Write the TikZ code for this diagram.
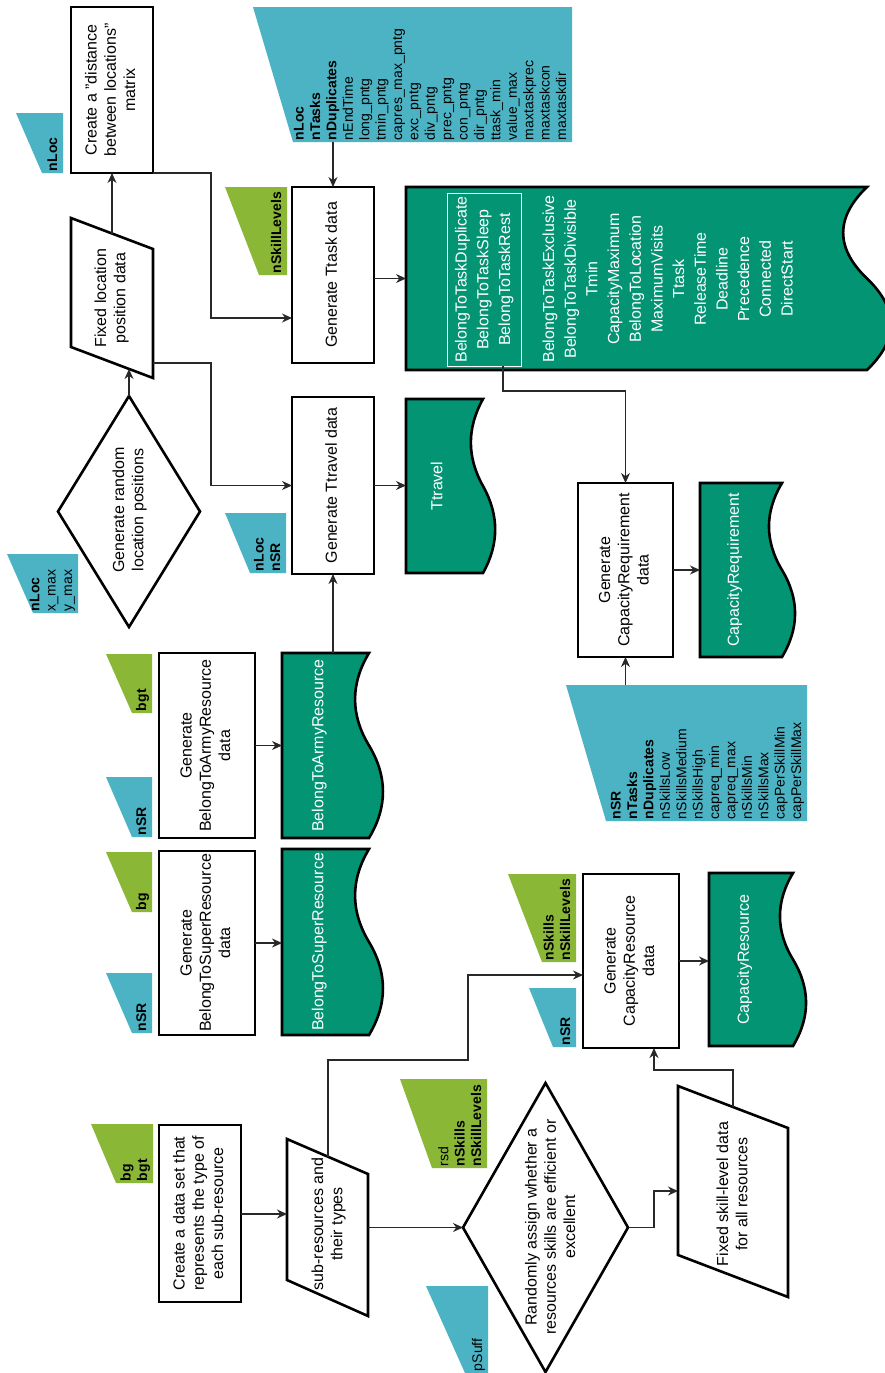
\documentclass[tikz,border=0pt]{standalone}
\usepackage{fontspec}
\setmainfont{Liberation Sans}
\usetikzlibrary{arrows.meta,calc,shapes.geometric}

\definecolor{paramcyan}{RGB}{75,179,196}
\definecolor{paramgreen}{RGB}{139,183,55}
\definecolor{docgreen}{RGB}{3,148,116}
\definecolor{wirecol}{RGB}{40,40,40}

% rotated multi-line labels (text reads bottom to top)
\newcommand{\txtrot}[1]{\rotatebox{90}{\begin{tabular}{@{}c@{}}#1\end{tabular}}}
\newcommand{\lstrot}[1]{\rotatebox{90}{\begin{tabular}{@{}l@{}}#1\end{tabular}}}

\tikzset{
  every node/.style={inner sep=0pt, outer sep=0pt},
  bigtext/.style={font=\fontsize{16}{19.2}\selectfont},
  listtext/.style={font=\fontsize{16}{21.67}\selectfont, text=white},
  procbox/.style={draw=black, line width=2.6pt, fill=white, bigtext},
  decision/.style={diamond, draw=black, line width=2.6pt, fill=white},
  iobody/.style={draw=black, line width=2.6pt, fill=white},
  docbody/.style={draw=black, line width=2.6pt, fill=docgreen},
  doclabel/.style={bigtext, text=white},
  prmtext/.style={font=\fontsize{14}{16.4}\selectfont, anchor=south east},
  connline/.style={draw=wirecol, line width=1.3pt},
  connarrow/.style={connline, -{Stealth[length=10pt,width=9pt]}},
}

% parameter tag: colour, x0, y0, x1, y1, lower-left x, name, lines
\newcommand{\prmshape}[8]{%
  \fill[#1] (#2,#3) -- (#4,#3) -- (#4,#5) -- (#6,#5) -- cycle;
  \coordinate (#7-nw) at (#2,#3);
  \coordinate (#7-se) at (#4,#5);
  \node[prmtext] (#7) at ({#4-1},{#5-2}) {\lstrot{#8}};
}

% data document with a wavy right side: L, T, R, B, wave depth
\newcommand{\docshape}[5]{%
  \path[docbody] (#1,#2) -- (#3,#2)
    .. controls ({#3-0.6*#5},{#2+(#4-#2)/6}) and ({#3-0.6*#5},{#2+(#4-#2)/3}) .. (#3,{(#2+#4)/2})
    .. controls ({#3+0.6*#5},{#2+2*(#4-#2)/3}) and ({#3+0.6*#5},{#2+5*(#4-#2)/6}) .. (#3,#4)
    -- (#1,#4) -- cycle;
}

\begin{document}
\begin{tikzpicture}[x=1pt,y=-1pt]
\fill[white] (0,0) rectangle (884,1373);
\useasboundingbox (0,0) rectangle (884,1373);

% ---------- parameter tags ----------
\prmshape{paramcyan}{16}{113}{63}{173}{42}{pnloc}{\textbf{nLoc}}
\prmshape{paramcyan}{253}{7}{572}{142}{293}{ptask}{\textbf{nLoc}\\\textbf{nTasks}\\\textbf{nDuplicates}\\nEndTime\\long\_pntg\\tmin\_pntg\\capres\_max\_pntg\\exc\_pntg\\div\_pntg\\prec\_pntg\\con\_pntg\\dir\_pntg\\ttask\_min\\value\_max\\maxtaskprec\\maxtaskcon\\maxtaskdir}
\prmshape{paramgreen}{225}{187}{287}{275}{259}{pskl}{\textbf{nSkillLevels}}
\prmshape{paramcyan}{225}{513}{286}{573}{250}{ptravel}{\textbf{nLoc}\\\textbf{nSR}}
\prmshape{paramcyan}{7}{554}{78}{613}{33}{ploc}{\textbf{nLoc}\\x\_max\\y\_max}
\prmshape{paramgreen}{106}{654}{152}{713}{132}{pbgt}{\textbf{bgt}}
\prmshape{paramcyan}{106}{777}{152}{837}{132}{pnsra}{\textbf{nSR}}
\prmshape{paramgreen}{106}{852}{152}{912}{132}{pbg}{\textbf{bg}}
\prmshape{paramcyan}{106}{973}{152}{1033}{132}{pnsrb}{\textbf{nSR}}
\prmshape{paramcyan}{566}{685}{807}{821}{606}{pcapreq}{\textbf{nSR}\\\textbf{nTasks}\\\textbf{nDuplicates}\\nSkillsLow\\nSkillsMedium\\nSkillsHigh\\capreq\_min\\capreq\_max\\nSkillsMin\\nSkillsMax\\capPerSkillMin\\capPerSkillMax}
\prmshape{paramgreen}{508}{874}{576}{962}{542}{pskills}{\textbf{nSkills}\\\textbf{nSkillLevels}}
\prmshape{paramcyan}{529}{988}{576}{1047}{553}{pnsrc}{\textbf{nSR}}
\prmshape{paramgreen}{91}{1124}{153}{1183}{116}{pbgbgt}{\textbf{bg}\\\textbf{bgt}}
\prmshape{paramgreen}{400}{1079}{487}{1168}{432}{prsd}{rsd\\\textbf{nSkills}\\\textbf{nSkillLevels}}
\prmshape{paramcyan}{426}{1286}{488}{1373}{465}{psuff}{pSuff}

% ---------- process boxes ----------
\node[procbox, minimum width=82pt, minimum height=166pt] (dist) at (112,90)
  {\txtrot{Create a "distance\\between locations"\\matrix}};
\node[procbox, minimum width=82pt, minimum height=176pt] (gtask) at (333,275)
  {\txtrot{Generate Ttask data}};
\node[procbox, minimum width=82pt, minimum height=177pt] (gtravel) at (333,485.5)
  {\txtrot{Generate Ttravel data}};
\node[procbox, minimum width=95pt, minimum height=174pt] (gcapreq) at (625.5,570)
  {\txtrot{Generate\\CapacityRequirement\\data}};
\node[procbox, minimum width=96pt, minimum height=185pt] (garmy) at (207,745.5)
  {\txtrot{Generate\\BelongToArmyResource\\data}};
\node[procbox, minimum width=96pt, minimum height=184pt] (gsuper) at (207,943)
  {\txtrot{Generate\\BelongToSuperResource\\data}};
\node[procbox, minimum width=96pt, minimum height=174pt] (gcapres) at (631,961)
  {\txtrot{Generate\\CapacityResource\\data}};
\node[procbox, minimum width=82pt, minimum height=177pt] (dataset) at (200,1213.5)
  {\txtrot{Create a data set that\\represents the type of\\each sub-resource}};

% ---------- decisions ----------
\node[decision, minimum width=142pt, minimum height=231pt] (rnd) at (129,511.5) {};
\node[bigtext] (rndtext) at (130,510) {\txtrot{Generate random\\location positions}};
\node[decision, minimum width=165pt, minimum height=289pt] (rand) at (545.5,1227.5) {};
\node[bigtext] (randtext) at (552,1227) {\txtrot{Randomly assign whether a\\resources skills are efficient or\\excellent}};

% ---------- data (parallelograms) ----------
\path[iobody] (71,218) -- (153,249) -- (153,378) -- (71,347) -- cycle;
\node[bigtext] (fixloc) at (112,298) {\txtrot{Fixed location\\position data}};
\coordinate (fixtop) at (112,233.5);
\coordinate (fixbot) at (129,369);
\coordinate (fixright) at (153,363);

\path[iobody] (287,1139) -- (368,1174) -- (368,1316) -- (287,1280) -- cycle;
\node[bigtext] (subres) at (329,1224) {\txtrot{sub-resources and\\their types}};
\coordinate (subleft) at (287,1214);
\coordinate (subright) at (368,1227.5);
\coordinate (subtop) at (328,1157);

\path[iobody] (678,1086) -- (788,1128) -- (788,1297) -- (678,1255) -- cycle;
\node[bigtext] (skillfix) at (734,1194) {\txtrot{Fixed skill-level data\\for all resources}};
\coordinate (skillleft) at (678,1191);
\coordinate (skilltop) at (733,1107);

% ---------- output documents ----------
\docshape{406}{187}{867}{370}{53}
\node[minimum width=449pt, minimum height=183pt] (tdoc) at (630.5,278.5) {};
\node[listtext, draw=white, line width=1pt, minimum width=74pt, minimum height=173pt] (trio) at (484,279.5)
  {\txtrot{BelongToTaskDuplicate\\BelongToTaskSleep\\BelongToTaskRest}};
\node[listtext] (tlist) at (669,279)
  {\txtrot{BelongToTaskExclusive\\BelongToTaskDivisible\\Tmin\\CapacityMaximum\\BelongToLocation\\MaximumVisits\\Ttask\\ReleaseTime\\Deadline\\Precedence\\Connected\\DirectStart}};

\docshape{406}{399}{483}{573}{27}
\node[doclabel, minimum width=65pt, minimum height=174pt] (ttravel) at (438.5,486) {\txtrot{Ttravel}};

\docshape{700}{483}{782}{657}{29}
\node[doclabel, minimum width=70pt, minimum height=174pt] (capreqdoc) at (735,570) {\txtrot{CapacityRequirement}};

\docshape{282}{653}{369}{838}{31}
\node[doclabel, minimum width=75pt, minimum height=185pt] (armydoc) at (319.5,745.5) {\txtrot{BelongToArmyResource}};

\docshape{282}{849}{369}{1035}{31}
\node[doclabel, minimum width=75pt, minimum height=186pt] (superdoc) at (319.5,942) {\txtrot{BelongToSuperResource}};

\docshape{709}{873}{793}{1046}{29}
\node[doclabel, minimum width=72pt, minimum height=173pt] (capresdoc) at (745,959.5) {\txtrot{CapacityResource}};

% ---------- connectors ----------
\draw[connarrow] (fixtop) -- (fixtop |- dist.south);
\draw[connarrow] (rnd.north) -- (fixbot);
\draw[connarrow] (dist.south east) -- ++(58,0) |- ($(gtask.west)+(0,43)$);
\draw[connarrow] (fixright) -- ++(58,0) |- (gtravel.west);
\draw[connarrow] (ptask-se -| gtask.north) -- (gtask.north);
\draw[connarrow] (gtask.east |- tdoc.west) -- (tdoc.west);
\draw[connarrow] (gtravel.east) -- (gtravel.east -| ttravel.west);
\draw[connarrow] (armydoc.north -| gtravel.south) -- (gtravel.south);
\draw[connarrow] (garmy.east) -- (garmy.east -| armydoc.west);
\draw[connarrow] (gsuper.east) -- (gsuper.east -| superdoc.west);
\draw[connarrow] ($(trio.south)+(19,0)$) -- ++(0,25) -| (gcapreq.north);
\draw[connarrow] (gcapreq.east) -- (gcapreq.east -| capreqdoc.west);
\draw[connarrow] (gcapreq.south |- pcapreq-nw) -- (gcapreq.south);
\draw[connarrow] (gcapres.east) -- (gcapres.east -| capresdoc.west);
\draw[connarrow] (dataset.east |- subleft) -- (subleft);
\draw[connarrow] (subright) -- (subright -| rand.west);
\draw[connarrow] (subtop) -- ++(0,-97) -- ++(140,0) |- ($(gcapres.west)+(0,14)$);
\draw[connarrow] (rand.east) -- ++(26,0) |- (skillleft);
\draw[connarrow] (skilltop) -- ++(0,-37) -| ($(gcapres.south)+(23,0)$);
\end{tikzpicture}
\end{document}
